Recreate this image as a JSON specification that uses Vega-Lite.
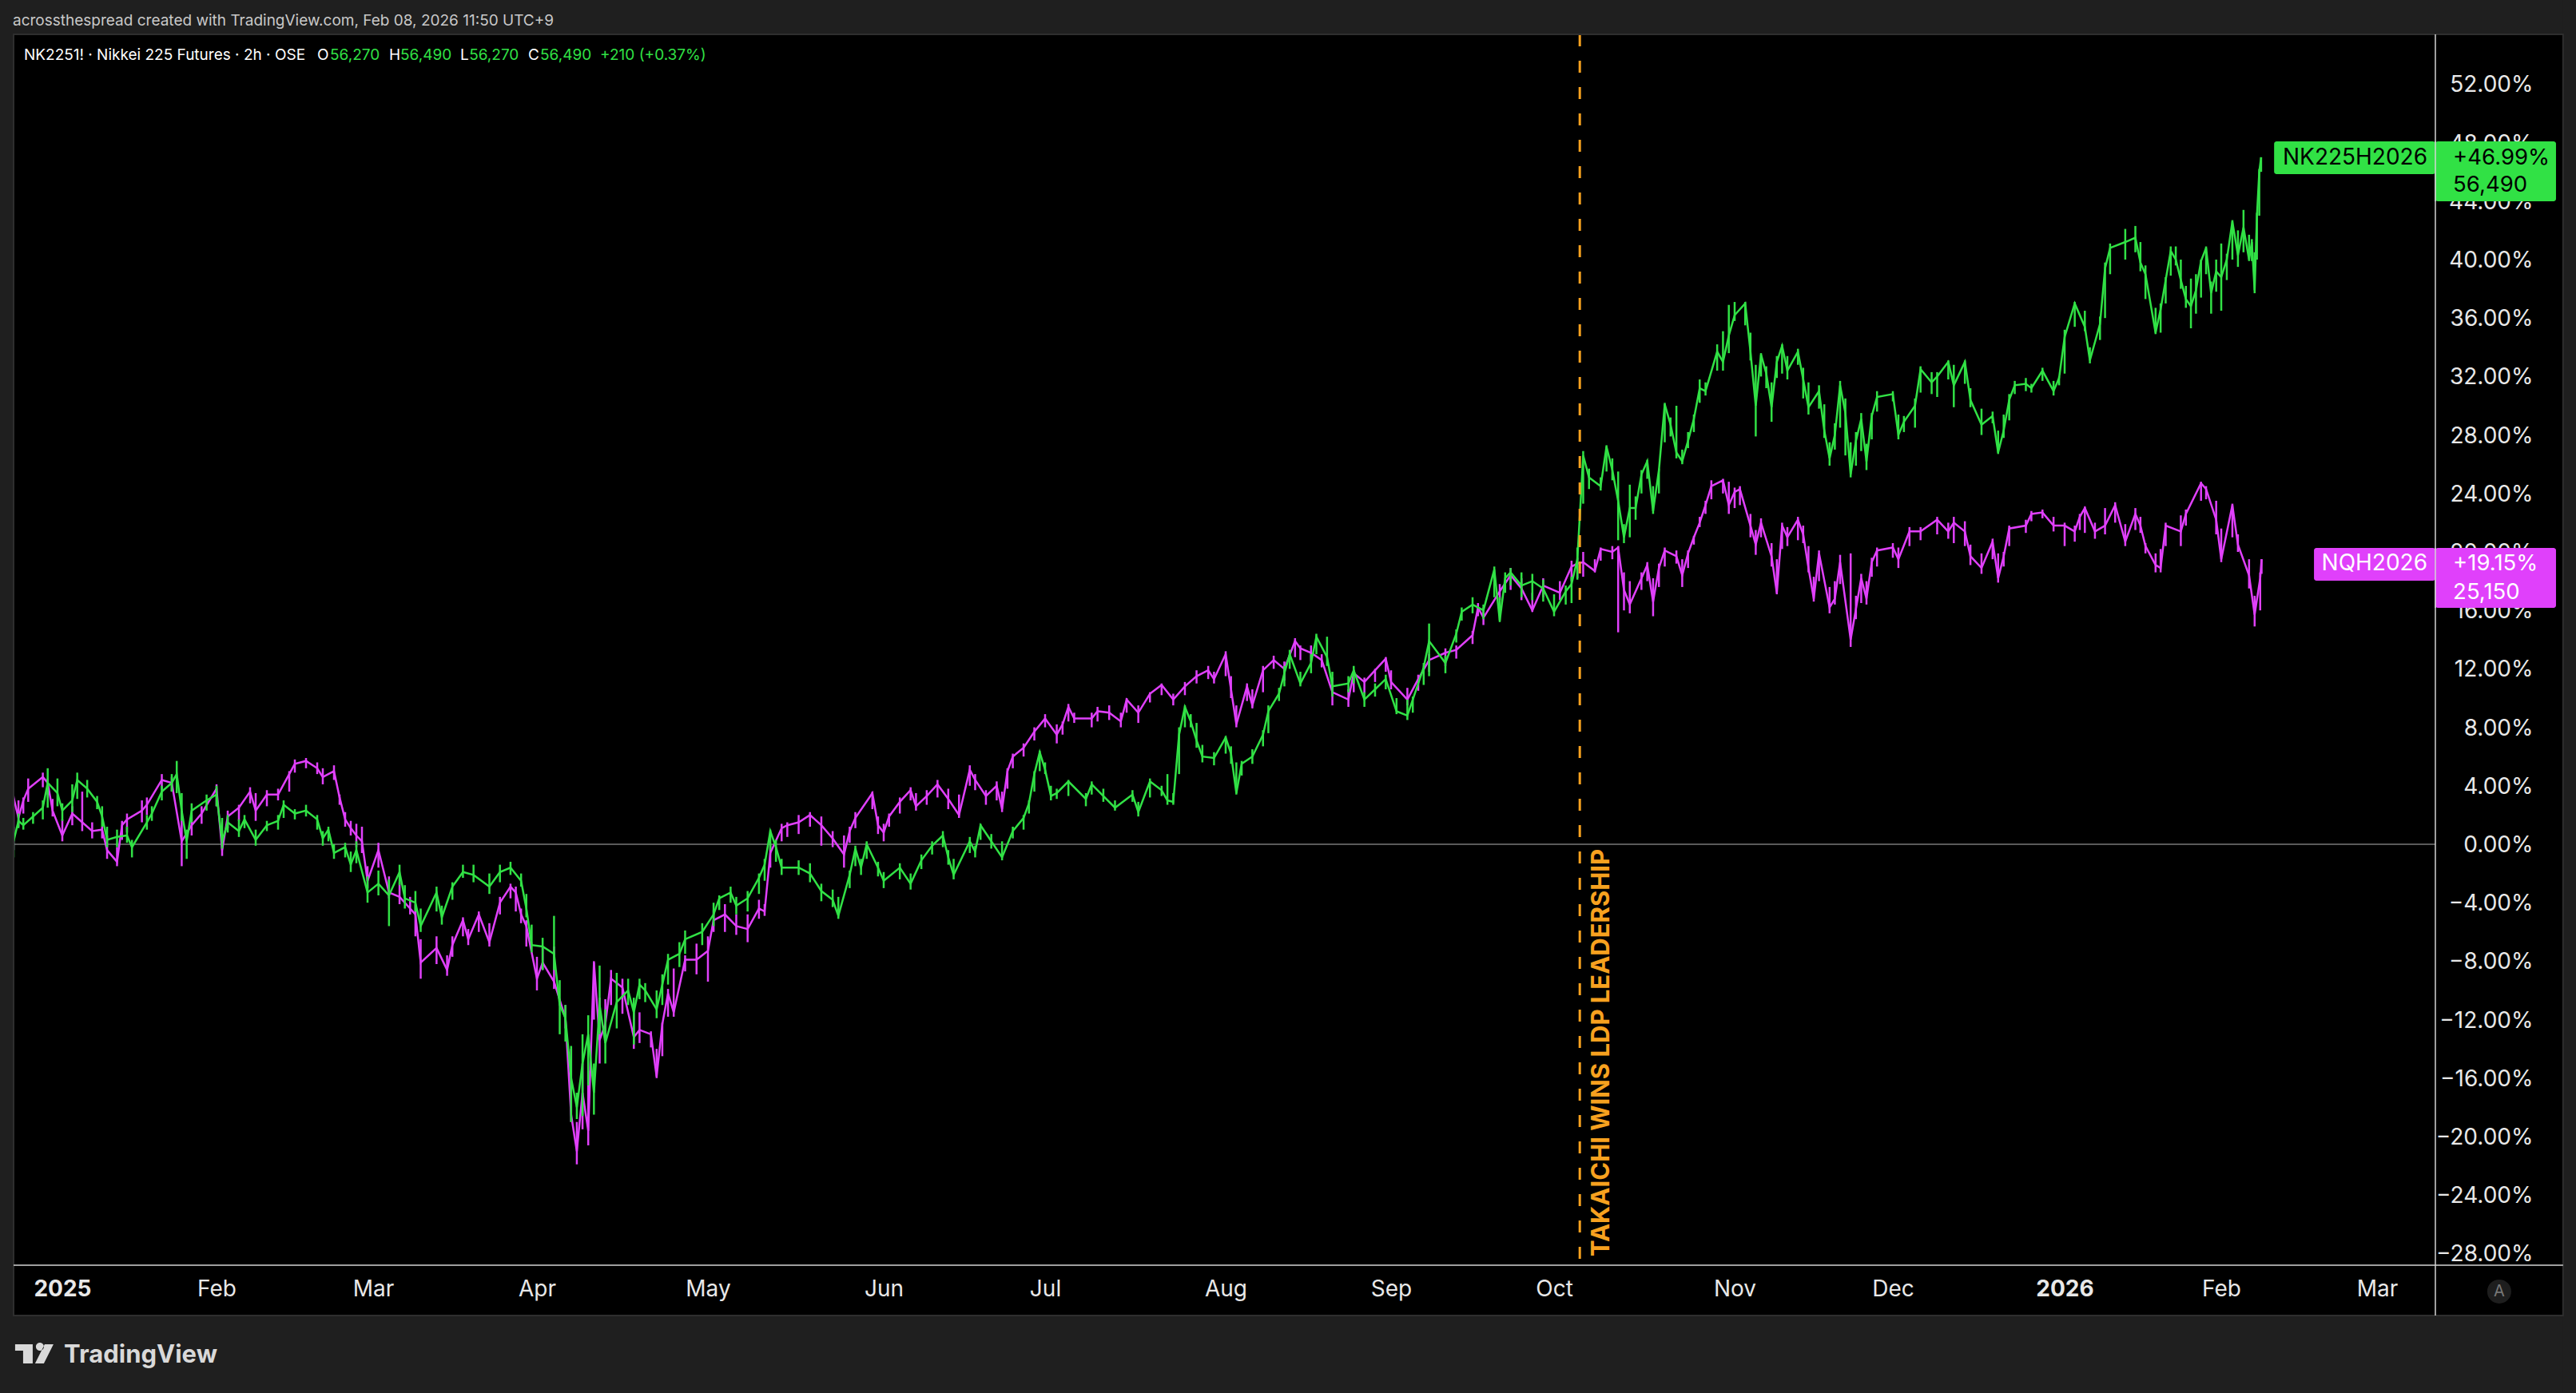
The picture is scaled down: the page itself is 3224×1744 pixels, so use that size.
{
  "$schema": "https://vega.github.io/schema/vega-lite/v6.json",
  "width": 3031,
  "height": 1541,
  "padding": {"left": 17, "top": 43, "right": 176, "bottom": 160},
  "autosize": {"type": "none"},
  "background": "#000000",
  "config": {"view": {"stroke": null}, "text": {"font": "Inter"}},
  "datasets": {
    "nk": [
      {"t":"2024-12-22","y":0.2,"l":-0.9,"h":1.2},{"t":"2024-12-23","y":1.6,"l":1.1,"h":2.1},{"t":"2024-12-24","y":1.3,"l":1.0,"h":1.8},{"t":"2024-12-26","y":1.9,"l":1.4,"h":2.2},{"t":"2024-12-28","y":2.5,"l":1.7,"h":3.0},{"t":"2024-12-29","y":4.2,"l":2.5,"h":5.2},{"t":"2024-12-31","y":3.5,"l":2.6,"h":4.5},{"t":"2025-01-01","y":2.3,"l":1.6,"h":2.8},{"t":"2025-01-03","y":3.0,"l":2.2,"h":4.1},{"t":"2025-01-04","y":4.4,"l":3.1,"h":4.9},{"t":"2025-01-06","y":3.8,"l":3.2,"h":4.4},{"t":"2025-01-08","y":2.9,"l":2.4,"h":3.3},{"t":"2025-01-09","y":1.9,"l":1.2,"h":2.6},{"t":"2025-01-10","y":0.3,"l":-0.2,"h":1.2},{"t":"2025-01-12","y":0.5,"l":-0.2,"h":1.0},{"t":"2025-01-14","y":0.6,"l":0.1,"h":1.2},{"t":"2025-01-15","y":-0.2,"l":-0.9,"h":0.3},{"t":"2025-01-18","y":1.5,"l":1.0,"h":2.0},{"t":"2025-01-19","y":2.1,"l":1.6,"h":2.6},{"t":"2025-01-21","y":3.6,"l":3.0,"h":4.0},{"t":"2025-01-23","y":4.2,"l":3.6,"h":4.8},{"t":"2025-01-24","y":4.8,"l":3.5,"h":5.7},{"t":"2025-01-25","y":2.3,"l":1.6,"h":3.5},{"t":"2025-01-26","y":0.2,"l":-1.0,"h":1.0},{"t":"2025-01-27","y":2.3,"l":1.5,"h":2.8},{"t":"2025-01-30","y":3.0,"l":2.3,"h":3.4},{"t":"2025-02-01","y":3.4,"l":2.6,"h":4.0},{"t":"2025-02-02","y":0.2,"l":-0.3,"h":1.8},{"t":"2025-02-03","y":1.5,"l":0.8,"h":2.0},{"t":"2025-02-05","y":0.9,"l":0.5,"h":1.7},{"t":"2025-02-06","y":1.7,"l":1.1,"h":2.0},{"t":"2025-02-08","y":0.3,"l":-0.1,"h":1.0},{"t":"2025-02-10","y":1.3,"l":0.9,"h":1.6},{"t":"2025-02-12","y":1.6,"l":1.0,"h":2.0},{"t":"2025-02-13","y":2.7,"l":1.8,"h":3.0},{"t":"2025-02-15","y":2.1,"l":1.7,"h":2.4},{"t":"2025-02-17","y":2.3,"l":1.9,"h":2.7},{"t":"2025-02-19","y":1.7,"l":1.0,"h":2.0},{"t":"2025-02-20","y":0.4,"l":-0.1,"h":0.9},{"t":"2025-02-21","y":1.0,"l":0.2,"h":1.2},{"t":"2025-02-22","y":-0.6,"l":-1.0,"h":0.0},{"t":"2025-02-24","y":-0.2,"l":-0.9,"h":0.1},{"t":"2025-02-25","y":-1.4,"l":-1.9,"h":-0.5},{"t":"2025-02-26","y":-0.4,"l":-1.3,"h":0.2},{"t":"2025-02-28","y":-3.3,"l":-4.0,"h":-2.2},{"t":"2025-03-02","y":-2.7,"l":-3.5,"h":-1.8},{"t":"2025-03-04","y":-3.5,"l":-5.6,"h":-2.4},{"t":"2025-03-06","y":-1.9,"l":-2.8,"h":-1.4},{"t":"2025-03-07","y":-3.7,"l":-4.4,"h":-2.8},{"t":"2025-03-09","y":-4.0,"l":-4.6,"h":-3.2},{"t":"2025-03-10","y":-5.6,"l":-6.0,"h":-4.4},{"t":"2025-03-13","y":-3.3,"l":-4.6,"h":-2.9},{"t":"2025-03-14","y":-5.0,"l":-5.5,"h":-4.2},{"t":"2025-03-16","y":-2.9,"l":-3.8,"h":-2.6},{"t":"2025-03-18","y":-1.9,"l":-2.3,"h":-1.4},{"t":"2025-03-20","y":-2.1,"l":-2.6,"h":-1.4},{"t":"2025-03-23","y":-2.9,"l":-3.4,"h":-2.0},{"t":"2025-03-25","y":-1.9,"l":-2.6,"h":-1.4},{"t":"2025-03-27","y":-1.6,"l":-2.1,"h":-1.2},{"t":"2025-03-29","y":-2.5,"l":-2.9,"h":-2.0},{"t":"2025-03-30","y":-4.4,"l":-5.0,"h":-3.4},{"t":"2025-03-31","y":-6.9,"l":-7.4,"h":-5.5},{"t":"2025-04-02","y":-7.0,"l":-8.6,"h":-6.4},{"t":"2025-04-04","y":-7.5,"l":-8.6,"h":-4.9},{"t":"2025-04-05","y":-11.0,"l":-13.0,"h":-9.3},{"t":"2025-04-06","y":-11.9,"l":-13.5,"h":-11.0},{"t":"2025-04-07","y":-16.0,"l":-19.0,"h":-13.8},{"t":"2025-04-08","y":-18.0,"l":-18.8,"h":-17.0},{"t":"2025-04-09","y":-15.0,"l":-18.6,"h":-13.0},{"t":"2025-04-10","y":-13.0,"l":-16.5,"h":-11.7},{"t":"2025-04-11","y":-17.0,"l":-18.5,"h":-15.0},{"t":"2025-04-12","y":-11.0,"l":-13.0,"h":-8.3},{"t":"2025-04-13","y":-13.6,"l":-15.0,"h":-11.3},{"t":"2025-04-15","y":-10.8,"l":-12.6,"h":-8.8},{"t":"2025-04-17","y":-10.0,"l":-11.0,"h":-9.2},{"t":"2025-04-18","y":-11.5,"l":-13.7,"h":-10.5},{"t":"2025-04-19","y":-9.6,"l":-10.6,"h":-9.2},{"t":"2025-04-20","y":-10.0,"l":-10.8,"h":-9.5},{"t":"2025-04-22","y":-11.3,"l":-11.9,"h":-10.0},{"t":"2025-04-23","y":-9.6,"l":-11.0,"h":-8.9},{"t":"2025-04-24","y":-7.9,"l":-9.6,"h":-7.5},{"t":"2025-04-26","y":-7.5,"l":-8.4,"h":-6.7},{"t":"2025-04-27","y":-6.5,"l":-7.5,"h":-5.9},{"t":"2025-04-30","y":-6.0,"l":-6.9,"h":-5.4},{"t":"2025-05-02","y":-4.8,"l":-5.6,"h":-4.0},{"t":"2025-05-03","y":-3.7,"l":-4.5,"h":-3.5},{"t":"2025-05-05","y":-3.3,"l":-4.0,"h":-2.9},{"t":"2025-05-06","y":-4.2,"l":-4.8,"h":-3.6},{"t":"2025-05-08","y":-3.7,"l":-4.6,"h":-3.2},{"t":"2025-05-10","y":-2.3,"l":-3.4,"h":-2.0},{"t":"2025-05-11","y":-1.4,"l":-2.5,"h":-1.0},{"t":"2025-05-12","y":0.9,"l":-0.4,"h":1.0},{"t":"2025-05-13","y":-0.2,"l":-1.2,"h":0.3},{"t":"2025-05-14","y":-1.6,"l":-2.1,"h":-1.0},{"t":"2025-05-17","y":-1.6,"l":-2.1,"h":-1.1},{"t":"2025-05-19","y":-2.0,"l":-2.6,"h":-1.3},{"t":"2025-05-21","y":-3.2,"l":-3.9,"h":-2.7},{"t":"2025-05-23","y":-3.8,"l":-4.3,"h":-3.1},{"t":"2025-05-24","y":-4.9,"l":-5.1,"h":-3.6},{"t":"2025-05-26","y":-2.1,"l":-3.0,"h":-1.8},{"t":"2025-05-27","y":-0.3,"l":-1.5,"h":-0.1},{"t":"2025-05-28","y":-1.6,"l":-2.1,"h":-1.0},{"t":"2025-05-29","y":0.0,"l":-1.0,"h":0.2},{"t":"2025-05-31","y":-1.6,"l":-2.2,"h":-1.2},{"t":"2025-06-01","y":-2.5,"l":-3.0,"h":-1.9},{"t":"2025-06-04","y":-1.6,"l":-2.4,"h":-1.3},{"t":"2025-06-06","y":-2.7,"l":-3.1,"h":-2.0},{"t":"2025-06-08","y":-1.1,"l":-1.7,"h":-0.7},{"t":"2025-06-10","y":-0.1,"l":-0.7,"h":0.2},{"t":"2025-06-12","y":0.6,"l":-0.2,"h":0.9},{"t":"2025-06-13","y":-0.9,"l":-1.4,"h":-0.4},{"t":"2025-06-14","y":-2.1,"l":-2.4,"h":-1.0},{"t":"2025-06-17","y":0.2,"l":-0.6,"h":0.5},{"t":"2025-06-18","y":-0.5,"l":-0.9,"h":-0.1},{"t":"2025-06-19","y":1.3,"l":0.3,"h":1.4},{"t":"2025-06-21","y":0.2,"l":-0.3,"h":0.7},{"t":"2025-06-23","y":-0.9,"l":-1.1,"h":0.2},{"t":"2025-06-25","y":0.9,"l":0.4,"h":1.2},{"t":"2025-06-27","y":1.8,"l":1.0,"h":2.0},{"t":"2025-06-28","y":2.8,"l":2.1,"h":3.0},{"t":"2025-06-29","y":4.8,"l":3.6,"h":5.0},{"t":"2025-06-30","y":6.3,"l":5.0,"h":6.4},{"t":"2025-07-01","y":5.1,"l":4.8,"h":5.6},{"t":"2025-07-02","y":3.3,"l":3.0,"h":4.0},{"t":"2025-07-03","y":3.5,"l":3.1,"h":3.8},{"t":"2025-07-05","y":4.3,"l":3.3,"h":4.4},{"t":"2025-07-08","y":3.1,"l":2.6,"h":3.5},{"t":"2025-07-09","y":4.1,"l":3.4,"h":4.3},{"t":"2025-07-11","y":3.3,"l":2.9,"h":3.8},{"t":"2025-07-13","y":2.5,"l":2.3,"h":3.0},{"t":"2025-07-16","y":3.4,"l":2.9,"h":3.7},{"t":"2025-07-17","y":2.2,"l":1.9,"h":2.9},{"t":"2025-07-19","y":4.3,"l":3.2,"h":4.5},{"t":"2025-07-21","y":3.7,"l":3.3,"h":4.0},{"t":"2025-07-22","y":3.0,"l":2.7,"h":4.8},{"t":"2025-07-23","y":2.9,"l":2.7,"h":3.5},{"t":null,"y":null,"l":null,"h":null},{"t":"2025-07-24","y":7.5,"l":4.8,"h":8.0},{"t":"2025-07-25","y":9.4,"l":8.0,"h":9.5},{"t":"2025-07-26","y":8.4,"l":8.0,"h":8.9},{"t":"2025-07-27","y":7.1,"l":6.6,"h":8.3},{"t":"2025-07-28","y":6.0,"l":5.6,"h":6.8},{"t":"2025-07-30","y":5.9,"l":5.4,"h":6.3},{"t":"2025-08-01","y":7.3,"l":6.2,"h":7.4},{"t":"2025-08-02","y":6.2,"l":5.5,"h":6.7},{"t":"2025-08-03","y":3.5,"l":3.4,"h":5.6},{"t":"2025-08-04","y":5.5,"l":4.7,"h":5.7},{"t":"2025-08-06","y":6.0,"l":5.5,"h":6.5},{"t":"2025-08-08","y":7.5,"l":6.7,"h":7.8},{"t":"2025-08-09","y":9.1,"l":7.6,"h":9.5},{"t":"2025-08-11","y":10.3,"l":9.8,"h":10.7},{"t":"2025-08-12","y":11.7,"l":10.8,"h":12.2},{"t":"2025-08-13","y":13.0,"l":12.0,"h":13.3},{"t":"2025-08-15","y":11.0,"l":10.8,"h":11.8},{"t":"2025-08-17","y":12.4,"l":11.7,"h":13.0},{"t":"2025-08-18","y":14.2,"l":13.0,"h":14.4},{"t":"2025-08-20","y":12.8,"l":12.2,"h":14.2},{"t":"2025-08-21","y":10.8,"l":10.1,"h":11.8},{"t":"2025-08-24","y":11.0,"l":10.4,"h":11.5},{"t":"2025-08-25","y":11.9,"l":11.0,"h":12.2},{"t":"2025-08-27","y":9.9,"l":9.4,"h":10.4},{"t":"2025-08-29","y":10.6,"l":10.1,"h":11.0},{"t":"2025-08-31","y":11.3,"l":10.6,"h":11.6},{"t":"2025-09-02","y":9.1,"l":8.9,"h":10.0},{"t":"2025-09-04","y":8.8,"l":8.5,"h":9.9},{"t":"2025-09-05","y":9.9,"l":9.0,"h":10.1},{"t":"2025-09-07","y":12.1,"l":10.9,"h":12.4},{"t":"2025-09-08","y":13.9,"l":11.5,"h":15.1},{"t":"2025-09-11","y":12.4,"l":11.7,"h":12.9},{"t":"2025-09-13","y":14.4,"l":13.8,"h":14.7},{"t":"2025-09-14","y":15.9,"l":15.3,"h":16.2},{"t":"2025-09-16","y":16.4,"l":15.8,"h":16.9},{"t":"2025-09-18","y":16.0,"l":15.4,"h":16.4},{"t":"2025-09-20","y":18.8,"l":16.9,"h":19.0},{"t":"2025-09-21","y":15.3,"l":15.2,"h":16.9},{"t":"2025-09-22","y":18.2,"l":17.2,"h":18.6},{"t":"2025-09-23","y":18.6,"l":17.7,"h":18.9},{"t":"2025-09-25","y":17.7,"l":16.9,"h":18.6},{"t":"2025-09-27","y":18.0,"l":16.7,"h":18.5},{"t":"2025-09-29","y":17.5,"l":16.6,"h":18.1},{"t":"2025-10-01","y":15.9,"l":15.6,"h":17.1},{"t":"2025-10-03","y":17.3,"l":16.4,"h":17.7},{"t":"2025-10-04","y":17.8,"l":16.5,"h":18.3},{"t":"2025-10-05","y":19.5,"l":18.1,"h":20.3},{"t":"2025-10-06","y":26.6,"l":23.3,"h":26.9},{"t":"2025-10-07","y":25.1,"l":24.3,"h":25.7},{"t":"2025-10-09","y":24.5,"l":24.2,"h":25.1},{"t":"2025-10-10","y":27.2,"l":25.5,"h":27.3},{"t":"2025-10-11","y":25.6,"l":24.9,"h":26.4},{"t":"2025-10-12","y":23.5,"l":20.8,"h":25.5},{"t":"2025-10-13","y":21.0,"l":20.6,"h":21.9},{"t":"2025-10-14","y":23.0,"l":21.0,"h":24.6},{"t":"2025-10-15","y":23.0,"l":22.2,"h":23.8},{"t":"2025-10-16","y":25.3,"l":24.0,"h":25.6},{"t":"2025-10-17","y":26.2,"l":25.0,"h":26.3},{"t":"2025-10-18","y":22.8,"l":22.6,"h":24.5},{"t":"2025-10-19","y":25.6,"l":24.0,"h":25.7},{"t":"2025-10-20","y":30.1,"l":27.5,"h":30.2},{"t":"2025-10-21","y":28.7,"l":27.9,"h":29.2},{"t":"2025-10-22","y":26.8,"l":26.4,"h":30.0},{"t":"2025-10-23","y":26.2,"l":26.0,"h":27.0},{"t":"2025-10-24","y":27.6,"l":27.1,"h":28.2},{"t":"2025-10-25","y":29.1,"l":28.2,"h":29.4},{"t":null,"y":null,"l":null,"h":null},{"t":"2025-10-26","y":31.2,"l":30.2,"h":31.8},{"t":"2025-10-27","y":31.0,"l":30.7,"h":31.6},{"t":"2025-10-29","y":33.7,"l":32.4,"h":34.2},{"t":"2025-10-30","y":33.0,"l":32.4,"h":35.1},{"t":"2025-10-31","y":34.8,"l":33.6,"h":36.9},{"t":"2025-11-01","y":36.2,"l":35.8,"h":37.1},{"t":"2025-11-03","y":37.0,"l":35.5,"h":37.1},{"t":"2025-11-04","y":33.7,"l":33.1,"h":35.0},{"t":"2025-11-05","y":30.0,"l":27.9,"h":32.8},{"t":"2025-11-06","y":33.5,"l":32.0,"h":33.6},{"t":"2025-11-07","y":32.2,"l":31.2,"h":32.7},{"t":"2025-11-08","y":29.9,"l":28.9,"h":31.6},{"t":"2025-11-09","y":33.0,"l":31.9,"h":33.4},{"t":"2025-11-10","y":34.1,"l":32.2,"h":34.2},{"t":"2025-11-11","y":32.4,"l":31.8,"h":33.4},{"t":"2025-11-13","y":33.7,"l":32.8,"h":33.9},{"t":"2025-11-14","y":31.8,"l":30.5,"h":32.6},{"t":"2025-11-15","y":29.9,"l":29.4,"h":31.6},{"t":"2025-11-17","y":31.0,"l":29.8,"h":31.4},{"t":"2025-11-18","y":28.3,"l":27.8,"h":30.1},{"t":"2025-11-19","y":26.4,"l":25.9,"h":27.5},{"t":"2025-11-20","y":28.0,"l":27.0,"h":28.8},{"t":"2025-11-21","y":31.4,"l":28.5,"h":31.7},{"t":"2025-11-22","y":29.5,"l":26.6,"h":30.5},{"t":"2025-11-23","y":25.3,"l":25.1,"h":27.5},{"t":"2025-11-24","y":27.6,"l":25.9,"h":28.2},{"t":"2025-11-25","y":29.1,"l":26.9,"h":29.5},{"t":"2025-11-26","y":26.2,"l":25.6,"h":27.4},{"t":"2025-11-27","y":29.3,"l":27.7,"h":29.5},{"t":"2025-11-28","y":30.6,"l":29.6,"h":31.0},{"t":"2025-12-01","y":30.8,"l":30.3,"h":31.0},{"t":"2025-12-02","y":28.0,"l":27.7,"h":29.4},{"t":"2025-12-03","y":28.9,"l":28.2,"h":29.3},{"t":"2025-12-05","y":30.0,"l":28.5,"h":30.5},{"t":"2025-12-06","y":32.5,"l":30.9,"h":32.7},{"t":"2025-12-08","y":31.6,"l":30.8,"h":32.3},{"t":"2025-12-09","y":32.0,"l":30.6,"h":32.3},{"t":"2025-12-11","y":33.0,"l":31.8,"h":33.1},{"t":"2025-12-12","y":31.4,"l":29.9,"h":32.8},{"t":"2025-12-14","y":33.0,"l":31.5,"h":33.1},{"t":"2025-12-15","y":30.4,"l":29.9,"h":31.2},{"t":"2025-12-17","y":28.7,"l":28.0,"h":29.8},{"t":"2025-12-19","y":29.3,"l":28.8,"h":29.6},{"t":"2025-12-20","y":26.8,"l":26.7,"h":28.3},{"t":"2025-12-21","y":28.3,"l":27.8,"h":29.4},{"t":"2025-12-22","y":30.4,"l":29.0,"h":30.8},{"t":"2025-12-23","y":31.4,"l":30.8,"h":31.7},{"t":"2025-12-25","y":31.5,"l":31.0,"h":31.9},{"t":"2025-12-26","y":31.2,"l":30.9,"h":31.5},{"t":"2025-12-28","y":32.4,"l":31.7,"h":32.6},{"t":"2025-12-30","y":31.0,"l":30.7,"h":31.7},{"t":"2025-12-31","y":31.9,"l":31.4,"h":32.0},{"t":null,"y":null,"l":null,"h":null},{"t":"2026-01-01","y":34.7,"l":32.2,"h":35.2},{"t":"2026-01-03","y":37.0,"l":35.4,"h":37.1},{"t":"2026-01-05","y":35.4,"l":35.1,"h":36.5},{"t":"2026-01-06","y":33.1,"l":32.9,"h":34.0},{"t":"2026-01-08","y":35.6,"l":34.5,"h":36.1},{"t":"2026-01-09","y":39.4,"l":36.0,"h":39.8},{"t":"2026-01-10","y":40.8,"l":39.0,"h":41.1},{"t":"2026-01-13","y":41.2,"l":40.0,"h":42.1},{"t":"2026-01-15","y":41.5,"l":40.5,"h":42.3},{"t":"2026-01-16","y":39.8,"l":39.2,"h":41.2},{"t":"2026-01-17","y":39.0,"l":37.3,"h":39.6},{"t":"2026-01-19","y":35.0,"l":34.9,"h":36.7},{"t":"2026-01-20","y":36.6,"l":35.0,"h":37.0},{"t":"2026-01-21","y":38.6,"l":37.0,"h":38.8},{"t":"2026-01-22","y":40.6,"l":38.9,"h":40.9},{"t":"2026-01-23","y":40.0,"l":39.6,"h":40.9},{"t":"2026-01-24","y":38.6,"l":38.0,"h":40.0},{"t":"2026-01-25","y":37.3,"l":36.7,"h":38.2},{"t":"2026-01-26","y":36.8,"l":35.3,"h":38.7},{"t":"2026-01-27","y":37.9,"l":36.3,"h":39.0},{"t":"2026-01-28","y":39.9,"l":37.4,"h":40.0},{"t":"2026-01-29","y":40.8,"l":39.0,"h":40.9},{"t":"2026-01-30","y":37.7,"l":36.3,"h":38.5},{"t":"2026-01-31","y":39.2,"l":37.8,"h":40.0},{"t":"2026-02-01","y":38.8,"l":36.5,"h":41.1},{"t":"2026-02-02","y":40.0,"l":38.6,"h":40.4},{"t":"2026-02-03","y":42.6,"l":40.0,"h":42.7},{"t":"2026-02-04","y":40.3,"l":39.5,"h":42.0},{"t":"2026-02-05","y":42.2,"l":40.5,"h":43.4},{"t":"2026-02-06","y":40.0,"l":39.9,"h":41.7},{"t":"2026-02-06T12:00Z","y":41.2,"l":39.9,"h":41.4},{"t":"2026-02-07","y":37.9,"l":37.7,"h":40.5},{"t":"2026-02-07T10:00Z","y":43.0,"l":40.0,"h":43.2},{"t":"2026-02-07T20:00Z","y":46.0,"l":43.0,"h":46.2},{"t":"2026-02-08T04:00Z","y":47.0,"l":46.0,"h":47.0}
    ],
    "nq": [
      {"t":"2024-12-22","y":3.2,"l":-0.4,"h":3.3},{"t":"2024-12-23","y":1.8,"l":1.2,"h":3.0},{"t":"2024-12-24","y":3.0,"l":2.1,"h":3.2},{"t":"2024-12-25","y":3.8,"l":2.9,"h":4.5},{"t":null,"y":null,"l":null,"h":null},{"t":"2024-12-28","y":4.6,"l":3.9,"h":4.9},{"t":"2024-12-29","y":4.2,"l":3.4,"h":4.5},{"t":"2024-12-30","y":2.3,"l":1.9,"h":3.1},{"t":"2025-01-01","y":0.6,"l":0.2,"h":1.7},{"t":"2025-01-03","y":2.1,"l":1.3,"h":2.6},{"t":"2025-01-05","y":1.5,"l":0.9,"h":3.6},{"t":"2025-01-07","y":0.9,"l":0.4,"h":1.5},{"t":"2025-01-09","y":1.0,"l":0.4,"h":1.2},{"t":"2025-01-10","y":-0.4,"l":-1.0,"h":0.6},{"t":"2025-01-12","y":-1.2,"l":-1.5,"h":-0.2},{"t":"2025-01-13","y":1.3,"l":0.3,"h":1.6},{"t":"2025-01-14","y":1.7,"l":0.8,"h":2.1},{"t":"2025-01-17","y":2.3,"l":1.5,"h":3.0},{"t":"2025-01-18","y":2.7,"l":2.0,"h":3.2},{"t":"2025-01-21","y":4.4,"l":3.7,"h":4.8},{"t":"2025-01-23","y":4.2,"l":3.6,"h":4.6},{"t":"2025-01-25","y":0.2,"l":-1.5,"h":2.3},{"t":"2025-01-27","y":1.3,"l":0.6,"h":2.0},{"t":"2025-01-29","y":2.1,"l":1.4,"h":2.6},{"t":"2025-02-01","y":3.8,"l":2.6,"h":4.1},{"t":"2025-02-02","y":-0.4,"l":-0.8,"h":0.6},{"t":"2025-02-03","y":1.9,"l":1.1,"h":2.3},{"t":"2025-02-05","y":2.5,"l":1.6,"h":2.7},{"t":"2025-02-07","y":3.6,"l":2.8,"h":3.9},{"t":"2025-02-08","y":2.3,"l":1.6,"h":3.5},{"t":"2025-02-10","y":3.4,"l":2.6,"h":3.7},{"t":"2025-02-12","y":3.4,"l":3.0,"h":3.8},{"t":"2025-02-14","y":4.8,"l":3.6,"h":5.0},{"t":"2025-02-15","y":5.5,"l":4.9,"h":5.8},{"t":"2025-02-17","y":5.7,"l":5.2,"h":5.9},{"t":"2025-02-19","y":5.2,"l":4.8,"h":5.6},{"t":"2025-02-20","y":4.6,"l":4.1,"h":5.2},{"t":"2025-02-22","y":5.0,"l":4.4,"h":5.4},{"t":"2025-02-23","y":3.2,"l":2.7,"h":3.4},{"t":"2025-02-24","y":1.7,"l":1.2,"h":2.2},{"t":"2025-02-25","y":1.1,"l":0.6,"h":1.6},{"t":"2025-02-26","y":0.6,"l":-0.2,"h":1.4},{"t":"2025-02-27","y":0.2,"l":-0.6,"h":1.2},{"t":"2025-02-28","y":-2.5,"l":-3.0,"h":-1.5},{"t":"2025-03-02","y":-0.4,"l":-1.6,"h":0.1},{"t":"2025-03-04","y":-3.3,"l":-3.7,"h":-2.2},{"t":"2025-03-06","y":-3.6,"l":-4.1,"h":-2.6},{"t":"2025-03-08","y":-4.4,"l":-4.8,"h":-3.6},{"t":"2025-03-09","y":-4.8,"l":-6.3,"h":-4.1},{"t":"2025-03-10","y":-8.1,"l":-9.2,"h":-6.5},{"t":"2025-03-13","y":-7.1,"l":-8.2,"h":-6.3},{"t":"2025-03-15","y":-8.6,"l":-9.0,"h":-7.6},{"t":"2025-03-16","y":-6.9,"l":-7.7,"h":-6.3},{"t":"2025-03-18","y":-5.2,"l":-6.3,"h":-5.0},{"t":"2025-03-19","y":-6.5,"l":-6.9,"h":-5.8},{"t":"2025-03-21","y":-4.8,"l":-6.0,"h":-4.6},{"t":"2025-03-23","y":-6.7,"l":-7.0,"h":-5.4},{"t":"2025-03-25","y":-4.0,"l":-4.8,"h":-3.6},{"t":"2025-03-27","y":-2.9,"l":-3.7,"h":-2.7},{"t":"2025-03-28","y":-3.3,"l":-4.6,"h":-2.9},{"t":"2025-03-29","y":-4.8,"l":-5.4,"h":-4.4},{"t":"2025-03-30","y":-5.6,"l":-7.0,"h":-5.2},{"t":"2025-04-01","y":-9.2,"l":-10.0,"h":-7.7},{"t":"2025-04-02","y":-8.1,"l":-8.6,"h":-7.0},{"t":"2025-04-04","y":-9.4,"l":-9.9,"h":-7.0},{"t":"2025-04-06","y":-11.9,"l":-12.6,"h":-11.0},{"t":"2025-04-07","y":-18.5,"l":-19.0,"h":-14.0},{"t":"2025-04-08","y":-21.0,"l":-21.9,"h":-19.0},{"t":"2025-04-09","y":-17.0,"l":-19.5,"h":-15.0},{"t":"2025-04-10","y":-19.6,"l":-20.6,"h":-15.5},{"t":"2025-04-11","y":-8.1,"l":-12.0,"h":-8.0},{"t":"2025-04-12","y":-13.4,"l":-15.0,"h":-10.5},{"t":"2025-04-13","y":-12.3,"l":-13.5,"h":-10.6},{"t":"2025-04-14","y":-9.2,"l":-11.0,"h":-8.6},{"t":"2025-04-16","y":-9.8,"l":-11.6,"h":-9.2},{"t":"2025-04-18","y":-13.2,"l":-14.0,"h":-11.5},{"t":"2025-04-19","y":-12.7,"l":-13.6,"h":-11.5},{"t":"2025-04-21","y":-13.0,"l":-13.9,"h":-12.8},{"t":"2025-04-22","y":-15.9,"l":-16.0,"h":-14.0},{"t":"2025-04-23","y":-12.3,"l":-14.5,"h":-12.2},{"t":"2025-04-24","y":-10.2,"l":-11.8,"h":-9.9},{"t":"2025-04-25","y":-11.5,"l":-11.8,"h":-8.5},{"t":"2025-04-27","y":-7.9,"l":-8.7,"h":-7.6},{"t":"2025-04-29","y":-7.9,"l":-8.9,"h":-6.8},{"t":"2025-05-01","y":-7.3,"l":-9.4,"h":-6.3},{"t":"2025-05-02","y":-5.2,"l":-6.0,"h":-4.5},{"t":"2025-05-04","y":-4.8,"l":-6.0,"h":-4.1},{"t":"2025-05-06","y":-5.6,"l":-6.2,"h":-4.8},{"t":"2025-05-08","y":-5.8,"l":-6.7,"h":-4.8},{"t":"2025-05-10","y":-4.4,"l":-5.1,"h":-3.8},{"t":"2025-05-11","y":-4.6,"l":-4.9,"h":-4.1},{"t":null,"y":null,"l":null,"h":null},{"t":"2025-05-12","y":-0.6,"l":-1.6,"h":0.0},{"t":"2025-05-14","y":1.1,"l":0.2,"h":1.4},{"t":"2025-05-15","y":1.3,"l":0.5,"h":1.5},{"t":"2025-05-17","y":1.5,"l":0.7,"h":2.0},{"t":"2025-05-19","y":2.0,"l":1.2,"h":2.2},{"t":"2025-05-21","y":1.3,"l":-0.1,"h":1.9},{"t":"2025-05-23","y":0.4,"l":-0.2,"h":0.9},{"t":"2025-05-25","y":-0.7,"l":-1.6,"h":0.6},{"t":"2025-05-26","y":0.9,"l":0.1,"h":1.2},{"t":"2025-05-27","y":1.8,"l":1.1,"h":2.2},{"t":"2025-05-30","y":3.5,"l":2.4,"h":3.6},{"t":"2025-05-31","y":1.3,"l":0.7,"h":1.9},{"t":"2025-06-01","y":0.8,"l":0.2,"h":1.4},{"t":"2025-06-02","y":1.9,"l":1.2,"h":2.1},{"t":"2025-06-04","y":2.9,"l":2.1,"h":3.2},{"t":"2025-06-06","y":3.7,"l":3.0,"h":3.9},{"t":"2025-06-07","y":2.6,"l":2.3,"h":3.5},{"t":"2025-06-09","y":3.3,"l":2.7,"h":3.7},{"t":"2025-06-11","y":4.1,"l":3.2,"h":4.4},{"t":"2025-06-13","y":3.1,"l":2.4,"h":3.8},{"t":"2025-06-15","y":2.0,"l":1.8,"h":3.4},{"t":"2025-06-17","y":5.1,"l":4.0,"h":5.4},{"t":"2025-06-18","y":4.4,"l":3.7,"h":4.8},{"t":"2025-06-20","y":3.3,"l":2.7,"h":3.7},{"t":"2025-06-22","y":4.0,"l":3.0,"h":4.3},{"t":"2025-06-23","y":2.4,"l":2.2,"h":3.6},{"t":"2025-06-24","y":5.0,"l":3.8,"h":5.2},{"t":"2025-06-25","y":6.0,"l":5.2,"h":6.2},{"t":"2025-06-27","y":6.6,"l":6.0,"h":6.9},{"t":"2025-06-29","y":7.7,"l":7.1,"h":8.0},{"t":"2025-07-01","y":8.6,"l":8.0,"h":8.9},{"t":"2025-07-03","y":7.5,"l":6.9,"h":8.2},{"t":"2025-07-04","y":8.2,"l":7.5,"h":8.4},{"t":"2025-07-05","y":9.4,"l":8.4,"h":9.6},{"t":"2025-07-06","y":8.6,"l":8.3,"h":9.0},{"t":"2025-07-09","y":8.6,"l":8.0,"h":9.0},{"t":"2025-07-10","y":9.1,"l":8.4,"h":9.4},{"t":"2025-07-12","y":9.0,"l":8.5,"h":9.5},{"t":"2025-07-14","y":8.4,"l":8.0,"h":9.0},{"t":"2025-07-15","y":9.9,"l":9.0,"h":10.0},{"t":"2025-07-17","y":9.0,"l":8.3,"h":9.5},{"t":"2025-07-19","y":10.3,"l":9.7,"h":10.4},{"t":"2025-07-21","y":10.9,"l":10.2,"h":11.0},{"t":"2025-07-23","y":9.9,"l":9.5,"h":10.3},{"t":"2025-07-25","y":10.8,"l":10.2,"h":11.1},{"t":"2025-07-27","y":11.5,"l":11.0,"h":11.9},{"t":"2025-07-29","y":11.9,"l":11.3,"h":12.2},{"t":"2025-07-30","y":11.3,"l":11.0,"h":11.8},{"t":"2025-08-01","y":13.0,"l":11.5,"h":13.2},{"t":"2025-08-02","y":10.6,"l":10.0,"h":11.5},{"t":"2025-08-03","y":8.2,"l":8.0,"h":9.5},{"t":"2025-08-05","y":10.8,"l":9.8,"h":11.0},{"t":"2025-08-06","y":9.5,"l":9.3,"h":10.6},{"t":"2025-08-08","y":11.9,"l":10.4,"h":12.2},{"t":"2025-08-10","y":12.6,"l":12.0,"h":12.9},{"t":"2025-08-12","y":12.0,"l":11.2,"h":12.5},{"t":"2025-08-14","y":13.9,"l":12.8,"h":14.1},{"t":"2025-08-15","y":13.4,"l":12.6,"h":13.6},{"t":"2025-08-17","y":13.1,"l":12.5,"h":13.6},{"t":"2025-08-19","y":12.6,"l":12.1,"h":13.0},{"t":"2025-08-21","y":10.4,"l":9.5,"h":11.4},{"t":"2025-08-24","y":9.9,"l":9.4,"h":10.6},{"t":"2025-08-25","y":11.7,"l":10.4,"h":11.9},{"t":"2025-08-27","y":11.1,"l":10.3,"h":11.4},{"t":"2025-08-29","y":11.9,"l":11.1,"h":12.0},{"t":"2025-08-31","y":12.7,"l":11.8,"h":12.8},{"t":"2025-09-01","y":11.1,"l":10.6,"h":11.9},{"t":"2025-09-04","y":9.9,"l":9.5,"h":10.7},{"t":"2025-09-06","y":11.3,"l":10.5,"h":11.6},{"t":"2025-09-08","y":12.6,"l":11.8,"h":13.0},{"t":"2025-09-11","y":13.1,"l":12.2,"h":13.4},{"t":"2025-09-13","y":13.3,"l":12.7,"h":13.6},{"t":"2025-09-16","y":14.3,"l":13.7,"h":14.6},{"t":null,"y":null,"l":null,"h":null},{"t":"2025-09-17","y":16.2,"l":15.6,"h":16.5},{"t":"2025-09-18","y":15.5,"l":15.0,"h":16.2},{"t":"2025-09-21","y":17.3,"l":16.7,"h":17.8},{"t":"2025-09-23","y":18.4,"l":17.4,"h":18.9},{"t":"2025-09-25","y":17.5,"l":16.7,"h":18.2},{"t":"2025-09-27","y":16.0,"l":15.9,"h":17.2},{"t":"2025-09-29","y":17.7,"l":16.9,"h":18.2},{"t":"2025-10-02","y":17.2,"l":16.7,"h":18.0},{"t":"2025-10-04","y":19.0,"l":18.0,"h":19.4},{"t":"2025-10-05","y":19.2,"l":18.2,"h":19.6},{"t":"2025-10-06","y":19.3,"l":18.3,"h":20.0},{"t":"2025-10-08","y":18.7,"l":18.6,"h":19.5},{"t":"2025-10-09","y":20.2,"l":19.4,"h":20.3},{"t":"2025-10-11","y":20.0,"l":19.5,"h":20.4},{"t":"2025-10-12","y":20.3,"l":14.5,"h":20.4},{"t":"2025-10-13","y":17.4,"l":16.0,"h":18.6},{"t":"2025-10-14","y":16.4,"l":15.8,"h":18.0},{"t":"2025-10-16","y":18.2,"l":17.4,"h":18.6},{"t":"2025-10-17","y":19.1,"l":18.0,"h":19.3},{"t":"2025-10-18","y":16.6,"l":15.6,"h":18.2},{"t":"2025-10-19","y":18.9,"l":17.6,"h":19.2},{"t":"2025-10-20","y":20.1,"l":19.0,"h":20.3},{"t":"2025-10-22","y":19.7,"l":19.2,"h":20.1},{"t":"2025-10-23","y":18.4,"l":17.6,"h":19.5},{"t":"2025-10-24","y":19.9,"l":18.9,"h":20.1},{"t":"2025-10-25","y":21.0,"l":20.5,"h":21.1},{"t":null,"y":null,"l":null,"h":null},{"t":"2025-10-26","y":22.0,"l":21.7,"h":22.4},{"t":"2025-10-27","y":23.2,"l":22.6,"h":23.5},{"t":"2025-10-28","y":24.5,"l":23.6,"h":24.9},{"t":"2025-10-30","y":24.9,"l":24.0,"h":25.0},{"t":"2025-10-31","y":23.2,"l":22.6,"h":24.8},{"t":"2025-11-01","y":24.1,"l":23.0,"h":24.4},{"t":"2025-11-02","y":24.3,"l":23.2,"h":24.5},{"t":"2025-11-04","y":21.8,"l":21.0,"h":22.6},{"t":"2025-11-05","y":20.5,"l":19.8,"h":21.5},{"t":"2025-11-06","y":22.0,"l":21.0,"h":22.3},{"t":"2025-11-08","y":19.7,"l":19.0,"h":20.6},{"t":"2025-11-09","y":17.2,"l":17.1,"h":19.5},{"t":"2025-11-10","y":21.8,"l":20.2,"h":22.0},{"t":"2025-11-11","y":21.0,"l":20.4,"h":21.7},{"t":"2025-11-13","y":22.2,"l":20.8,"h":22.4},{"t":"2025-11-14","y":21.2,"l":20.6,"h":21.8},{"t":"2025-11-15","y":18.9,"l":18.6,"h":20.4},{"t":"2025-11-16","y":16.8,"l":16.6,"h":18.3},{"t":"2025-11-17","y":19.9,"l":18.0,"h":20.1},{"t":"2025-11-19","y":16.2,"l":15.8,"h":17.6},{"t":"2025-11-20","y":16.8,"l":16.4,"h":18.0},{"t":"2025-11-21","y":19.3,"l":17.8,"h":19.8},{"t":"2025-11-23","y":14.0,"l":13.5,"h":19.9},{"t":"2025-11-24","y":16.1,"l":15.4,"h":17.0},{"t":"2025-11-25","y":18.2,"l":16.5,"h":18.5},{"t":"2025-11-26","y":16.8,"l":16.4,"h":18.0},{"t":"2025-11-27","y":19.3,"l":18.3,"h":19.6},{"t":"2025-11-28","y":20.1,"l":19.0,"h":20.3},{"t":"2025-12-01","y":20.3,"l":19.6,"h":20.6},{"t":"2025-12-02","y":19.5,"l":18.9,"h":20.3},{"t":"2025-12-04","y":21.4,"l":20.4,"h":21.7},{"t":"2025-12-06","y":21.4,"l":20.8,"h":21.7},{"t":"2025-12-09","y":22.2,"l":21.2,"h":22.4},{"t":"2025-12-11","y":21.4,"l":20.9,"h":22.0},{"t":"2025-12-12","y":22.0,"l":20.6,"h":22.4},{"t":"2025-12-14","y":21.4,"l":20.4,"h":22.1},{"t":"2025-12-15","y":19.7,"l":19.1,"h":20.5},{"t":"2025-12-17","y":18.9,"l":18.5,"h":19.9},{"t":"2025-12-19","y":20.7,"l":19.5,"h":20.9},{"t":"2025-12-20","y":18.2,"l":17.9,"h":19.9},{"t":"2025-12-21","y":19.7,"l":19.0,"h":20.0},{"t":"2025-12-22","y":21.6,"l":20.4,"h":21.8},{"t":"2025-12-25","y":21.8,"l":21.3,"h":22.2},{"t":"2025-12-26","y":22.6,"l":22.1,"h":22.8},{"t":null,"y":null,"l":null,"h":null},{"t":"2025-12-28","y":22.7,"l":22.3,"h":22.9},{"t":"2025-12-30","y":21.8,"l":21.4,"h":22.4},{"t":"2026-01-01","y":21.8,"l":20.4,"h":22.0},{"t":"2026-01-03","y":21.4,"l":20.7,"h":21.8},{"t":"2026-01-04","y":22.4,"l":21.5,"h":22.6},{"t":"2026-01-05","y":23.0,"l":21.3,"h":23.1},{"t":"2026-01-07","y":21.4,"l":20.9,"h":22.0},{"t":"2026-01-09","y":21.8,"l":21.2,"h":23.0},{"t":"2026-01-11","y":23.2,"l":22.0,"h":23.4},{"t":"2026-01-13","y":20.7,"l":20.4,"h":21.9},{"t":"2026-01-15","y":22.6,"l":21.5,"h":23.0},{"t":"2026-01-16","y":21.8,"l":21.3,"h":22.4},{"t":null,"y":null,"l":null,"h":null},{"t":"2026-01-17","y":20.4,"l":19.9,"h":20.6},{"t":"2026-01-19","y":19.1,"l":18.6,"h":19.9},{"t":"2026-01-20","y":18.9,"l":18.6,"h":20.2},{"t":"2026-01-21","y":21.8,"l":20.4,"h":22.0},{"t":"2026-01-24","y":21.4,"l":20.4,"h":22.5},{"t":"2026-01-25","y":22.6,"l":21.8,"h":22.9},{"t":"2026-01-28","y":24.7,"l":23.5,"h":24.8},{"t":"2026-01-29","y":24.3,"l":23.6,"h":24.5},{"t":"2026-01-31","y":22.2,"l":21.2,"h":23.5},{"t":"2026-02-01","y":19.5,"l":19.3,"h":21.6},{"t":"2026-02-03","y":23.2,"l":21.0,"h":23.3},{"t":"2026-02-04","y":20.5,"l":20.0,"h":21.2},{"t":"2026-02-06","y":18.4,"l":17.5,"h":19.5},{"t":"2026-02-07","y":15.7,"l":14.9,"h":17.0},{"t":"2026-02-08","y":18.2,"l":16.0,"h":18.6},{"t":"2026-02-08T06:00Z","y":19.5,"l":18.5,"h":19.5}
    ]
  },
  "encoding": {
    "x": {
      "field": "t",
      "type": "temporal",
      "title": null,
      "scale": {
        "type": "utc",
        "nice": false,
        "domain": {"expr": "[toDate('2024-12-22'),toDate('2025-01-01'),toDate('2025-02-01'),toDate('2025-03-01'),toDate('2025-04-01'),toDate('2025-05-01'),toDate('2025-06-01'),toDate('2025-07-01'),toDate('2025-08-01'),toDate('2025-09-01'),toDate('2025-10-01'),toDate('2025-11-01'),toDate('2025-12-01'),toDate('2026-01-01'),toDate('2026-02-01'),toDate('2026-03-01'),toDate('2026-03-12')]"},
        "range": [0,61,254,450,655,869,1089,1291,1517,1724,1928,2154,2352,2567,2763,2958,3031]
      },
      "axis": {
        "orient": "bottom",
        "values": ["2025-01-01","2025-02-01","2025-03-01","2025-04-01","2025-05-01","2025-06-01","2025-07-01","2025-08-01","2025-09-01","2025-10-01","2025-11-01","2025-12-01","2026-01-01","2026-02-01","2026-03-01"],
        "labelExpr": "utcmonth(datum.value)==0 ? utcFormat(datum.value,'%Y') : utcFormat(datum.value,'%b')",
        "labelFontWeight": {"condition": {"test": "utcmonth(datum.value)==0", "value": "bold"}, "value": "normal"},
        "labelFont": "Inter",
        "labelFontSize": 28,
        "labelColor": "#e8e8e8",
        "labelAlign": "center",
        "labelBaseline": "middle",
        "labelPadding": 30,
        "labelOverlap": false,
        "labelBound": false,
        "labelFlush": false,
        "ticks": false,
        "domain": false,
        "grid": false
      }
    },
    "y": {
      "field": "y",
      "type": "quantitative",
      "title": null,
      "scale": {"domain": [-28.8, 55.41], "nice": false, "zero": false},
      "axis": {
        "orient": "right",
        "values": [-28,-24,-20,-16,-12,-8,-4,0,4,8,12,16,20,24,28,32,36,40,44,48,52],
        "labelExpr": "(datum.value<0?'−':'')+format(abs(datum.value),'.2f')+'%'",
        "labelFont": "Inter",
        "labelFontSize": 28,
        "labelColor": "#e8e8e8",
        "labelAlign": "right",
        "labelBaseline": "middle",
        "labelPadding": 122,
        "labelOffset": 1.5,
        "labelOverlap": false,
        "labelBound": false,
        "ticks": false,
        "domain": false,
        "grid": false
      }
    }
  },
  "layer": [
    {
      "data": {"values": [{"t": "2024-12-22", "t2": "2026-03-12", "y": 0}]},
      "mark": {"type": "rule", "color": "#787878", "strokeWidth": 1.5},
      "encoding": {"x2": {"field": "t2"}}
    },
    {
      "data": {"name": "nq"},
      "mark": {"type": "rule", "color": "#e040fb", "strokeWidth": 2.5},
      "encoding": {"y": {"field": "l", "type": "quantitative", "title": null}, "y2": {"field": "h"}}
    },
    {
      "data": {"name": "nq"},
      "mark": {"type": "line", "color": "#e040fb", "strokeWidth": 2.5}
    },
    {
      "data": {"name": "nk"},
      "mark": {"type": "rule", "color": "#31e145", "strokeWidth": 2.5},
      "encoding": {"y": {"field": "l", "type": "quantitative", "title": null}, "y2": {"field": "h"}}
    },
    {
      "data": {"name": "nk"},
      "mark": {"type": "line", "color": "#31e145", "strokeWidth": 2.5}
    },
    {
      "data": {"values": [{"t": "2025-10-05T10:00Z", "y": 55.41, "y2": -28.8}]},
      "mark": {"type": "rule", "color": "#f7a11f", "strokeWidth": 3, "strokeDash": [15, 18]},
      "encoding": {"y2": {"field": "y2"}}
    },
    {
      "data": {"values": [{"t": "2025-10-09T07:00Z", "y": -28.2, "label": "TAKAICHI WINS LDP LEADERSHIP"}]},
      "mark": {"type": "text", "color": "#f7a11f", "fontSize": 31, "fontWeight": 700, "angle": 270, "align": "left", "baseline": "middle"},
      "encoding": {"text": {"field": "label"}}
    },
    {
      "data": {"values": [
        {"t": "2024-12-19T05:00Z", "t2": "2026-04-08", "y": 57.8, "y2": 55.41},
        {"t": "2024-12-19T05:00Z", "t2": "2026-04-08", "y": -32.24, "y2": -37.6},
        {"t": "2024-12-19T05:00Z", "t2": "2024-12-22", "y": 57.8, "y2": -37.6},
        {"t": "2026-04-05T02:00Z", "t2": "2026-04-08", "y": 57.8, "y2": -37.6}
      ]},
      "mark": {"type": "rect", "color": "#1f1f1f"},
      "encoding": {"x2": {"field": "t2"}, "y2": {"field": "y2"}}
    },
    {
      "data": {"values": [{"t": "2024-12-22", "t2": "2026-04-05T02:00Z", "y": 55.41, "y2": -32.24}]},
      "mark": {"type": "rect", "filled": false, "stroke": "#2e2e2e", "strokeWidth": 2},
      "encoding": {"x2": {"field": "t2"}, "y2": {"field": "y2"}}
    },
    {
      "data": {"values": [{"t": "2026-03-12", "y": 55.41, "y2": -32.24}]},
      "mark": {"type": "rule", "color": "#d4d4d4", "strokeWidth": 1.5},
      "encoding": {"y2": {"field": "y2"}}
    },
    {
      "data": {"values": [{"t": "2024-12-22", "t2": "2026-04-05T02:00Z", "y": -28.8}]},
      "mark": {"type": "rule", "color": "#d4d4d4", "strokeWidth": 1.5},
      "encoding": {"x2": {"field": "t2"}}
    },
    {
      "data": {"values": [
        {"t": "2026-02-10T12:00Z", "t2": "2026-03-12", "y": 48.09, "y2": 45.85},
        {"t": "2026-03-12", "t2": "2026-04-03T18:00Z", "y": 48.09, "y2": 43.99}
      ]},
      "mark": {"type": "rect", "color": "#31e145", "cornerRadius": 3},
      "encoding": {"x2": {"field": "t2"}, "y2": {"field": "y2"}}
    },
    {
      "data": {"values": [
        {"t": "2026-02-17T16:00Z", "t2": "2026-03-12", "y": 20.27, "y2": 18.03},
        {"t": "2026-03-12", "t2": "2026-04-03T18:00Z", "y": 20.27, "y2": 16.17}
      ]},
      "mark": {"type": "rect", "color": "#e040fb", "cornerRadius": 3},
      "encoding": {"x2": {"field": "t2"}, "y2": {"field": "y2"}}
    },
    {
      "data": {"values": [{"t": "2026-03-12", "y": 48.09, "y2": 43.99}, {"t": "2026-03-12", "y": 20.27, "y2": 16.17}]},
      "mark": {"type": "rule", "color": "#d4d4d4", "strokeWidth": 1.5},
      "encoding": {"y2": {"field": "y2"}}
    },
    {
      "data": {"values": [{"t": "2026-03-10T12:00Z", "y": 46.94, "label": "NK225H2026"}]},
      "mark": {"type": "text", "color": "#000000", "fontSize": 28, "align": "right", "baseline": "middle"},
      "encoding": {"text": {"field": "label"}}
    },
    {
      "data": {"values": [{"t": "2026-03-15T08:00Z", "y": 46.94, "label": "+46.99%"}, {"t": "2026-03-15T08:00Z", "y": 45.08, "label": "56,490"}]},
      "mark": {"type": "text", "color": "#000000", "fontSize": 27.5, "align": "left", "baseline": "middle"},
      "encoding": {"text": {"field": "label"}}
    },
    {
      "data": {"values": [{"t": "2026-03-10T12:00Z", "y": 19.18, "label": "NQH2026"}]},
      "mark": {"type": "text", "color": "#ffffff", "fontSize": 28, "align": "right", "baseline": "middle"},
      "encoding": {"text": {"field": "label"}}
    },
    {
      "data": {"values": [{"t": "2026-03-15T08:00Z", "y": 19.18, "label": "+19.15%"}, {"t": "2026-03-15T08:00Z", "y": 17.21, "label": "25,150"}]},
      "mark": {"type": "text", "color": "#ffffff", "fontSize": 27.5, "align": "left", "baseline": "middle"},
      "encoding": {"text": {"field": "label"}}
    },
    {
      "data": {"values": [{"t": "2024-12-21T20:00Z", "y": 56.33, "label": "acrossthespread created with TradingView.com, Feb 08, 2026 11:50 UTC+9"}]},
      "mark": {"type": "text", "color": "#c8c8c8", "fontSize": 19, "align": "left", "baseline": "middle"},
      "encoding": {"text": {"field": "label"}}
    },
    {
      "data": {"values": [
        {"t": "2024-12-24T03:00Z", "y": 53.98, "label": "NK2251! · Nikkei 225 Futures · 2h · OSE"},
        {"t": "2025-02-19T00:00Z", "y": 53.98, "label": "O"},
        {"t": "2025-03-04T00:30Z", "y": 53.98, "label": "H"},
        {"t": "2025-03-17T12:00Z", "y": 53.98, "label": "L"},
        {"t": "2025-03-30T08:00Z", "y": 53.98, "label": "C"}
      ]},
      "mark": {"type": "text", "color": "#ffffff", "fontSize": 19, "align": "left", "baseline": "middle"},
      "encoding": {"text": {"field": "label"}}
    },
    {
      "data": {"values": [
        {"t": "2025-02-21T07:00Z", "y": 53.98, "label": "56,270"},
        {"t": "2025-03-06T03:30Z", "y": 53.98, "label": "56,490"},
        {"t": "2025-03-19T04:00Z", "y": 53.98, "label": "56,270"},
        {"t": "2025-04-01T13:30Z", "y": 53.98, "label": "56,490"},
        {"t": "2025-04-12T02:00Z", "y": 53.98, "label": "+210 (+0.37%)"}
      ]},
      "mark": {"type": "text", "color": "#31e145", "fontSize": 19, "align": "left", "baseline": "middle"},
      "encoding": {"text": {"field": "label"}}
    },
    {
      "data": {"values": [{"t": "2024-12-26T06:00Z", "y": -34.86}]},
      "mark": {
        "type": "point", "filled": true, "color": "#d9d9d9", "opacity": 1, "size": 2304,
        "shape": "M-1 -0.5 H-0.083 V0.5 H-0.583 V-0.167 H-1 Z M0.083 -0.375 A0.208 0.208 0 1 0 0.5 -0.375 A0.208 0.208 0 1 0 0.083 -0.375 Z M0.542 -0.5 H1 L0.5 0.5 H0.04 Z"
      }
    },
    {
      "data": {"values": [{"t": "2025-01-01T08:00Z", "y": -34.97, "label": "TradingView"}]},
      "mark": {"type": "text", "color": "#d9d9d9", "fontSize": 31, "fontWeight": 700, "align": "left", "baseline": "middle"},
      "encoding": {"text": {"field": "label"}}
    },
    {
      "data": {"values": [{"t": "2026-03-24T01:00Z", "y": -30.6}]},
      "mark": {"type": "point", "shape": "circle", "filled": true, "color": "#1e1e1e", "opacity": 1, "size": 900}
    },
    {
      "data": {"values": [{"t": "2026-03-24T01:00Z", "y": -30.6, "label": "A"}]},
      "mark": {"type": "text", "color": "#787878", "fontSize": 20, "align": "center", "baseline": "middle"},
      "encoding": {"text": {"field": "label"}}
    }
  ]
}
